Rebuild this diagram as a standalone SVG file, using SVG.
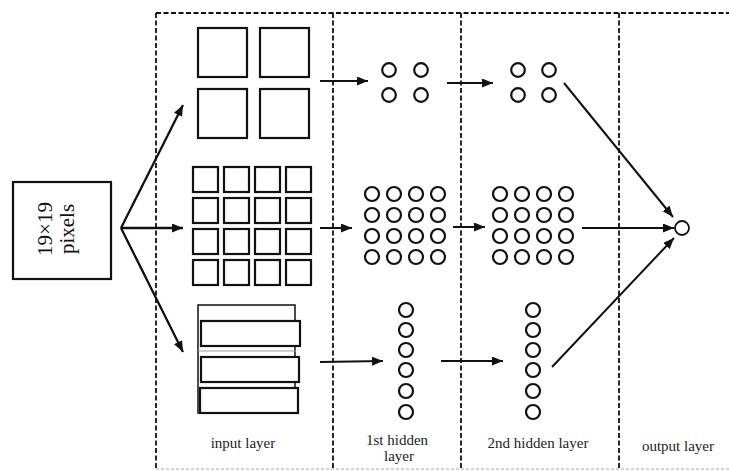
<svg xmlns="http://www.w3.org/2000/svg" width="729" height="471" viewBox="0 0 729 471">
<style>
.dash{fill:none;stroke:#111;stroke-width:1.8;stroke-dasharray:5 2.5}
.sq{fill:#fff;stroke:#111;stroke-width:2.2}
.thin{fill:#fff;stroke:#111;stroke-width:1.5}
.nd{fill:#fff;stroke:#111;stroke-width:2.2}
.ar{fill:none;stroke:#111;stroke-width:2;marker-end:url(#ah)}
.ar2{fill:none;stroke:#111;stroke-width:2.3;marker-end:url(#ah)}
.lbl{font-family:"Liberation Serif","Times New Roman",serif;font-size:15px;fill:#222;text-anchor:middle}
.big{font-family:"Liberation Serif","Times New Roman",serif;font-size:21px;fill:#111;text-anchor:middle}
</style>
<defs>
<marker id="ah" markerUnits="userSpaceOnUse" markerWidth="12" markerHeight="9" refX="11" refY="4.5" orient="auto">
<path d="M0,0 L11,4.5 L0,9 z" fill="#111"/>
</marker>
</defs>
<rect width="729" height="471" fill="#fff"/>
<g id="frame">
<path class="dash" d="M156,13 H729"/>
<path class="dash" d="M156,13 V469"/>
<path class="dash" d="M333,13 V469"/>
<path class="dash" d="M461,13 V469"/>
<path class="dash" d="M619,13 V469"/>
<path d="M156,469 H729" fill="none" stroke="#aaa" stroke-width="1" stroke-dasharray="3 2"/>
</g>
<g id="source">
<rect x="13" y="182" width="98" height="97" fill="#fff" stroke="#111" stroke-width="2.2"/>
<text class="big" transform="translate(52,229) rotate(-90)">19×19</text>
<text class="big" transform="translate(74,229) rotate(-90)">pixels</text>
</g>
<g id="input-top">
<rect class="sq" x="198" y="28" width="49" height="49"/>
<rect class="sq" x="260" y="28" width="49" height="49"/>
<rect class="sq" x="198" y="89" width="49" height="49"/>
<rect class="sq" x="260" y="89" width="49" height="49"/>
</g>
<g id="input-mid">
<rect class="sq" x="193" y="167" width="25" height="25"/>
<rect class="sq" x="224" y="167" width="25" height="25"/>
<rect class="sq" x="255" y="167" width="25" height="25"/>
<rect class="sq" x="286" y="167" width="25" height="25"/>
<rect class="sq" x="193" y="198" width="25" height="25"/>
<rect class="sq" x="224" y="198" width="25" height="25"/>
<rect class="sq" x="255" y="198" width="25" height="25"/>
<rect class="sq" x="286" y="198" width="25" height="25"/>
<rect class="sq" x="193" y="229" width="25" height="25"/>
<rect class="sq" x="224" y="229" width="25" height="25"/>
<rect class="sq" x="255" y="229" width="25" height="25"/>
<rect class="sq" x="286" y="229" width="25" height="25"/>
<rect class="sq" x="193" y="260" width="25" height="25"/>
<rect class="sq" x="224" y="260" width="25" height="25"/>
<rect class="sq" x="255" y="260" width="25" height="25"/>
<rect class="sq" x="286" y="260" width="25" height="25"/>
</g>
<g id="input-bottom">
<rect class="thin" x="198" y="305" width="97" height="108"/>
<line x1="198" y1="351" x2="296" y2="351" stroke="#999" stroke-width="1"/>
<rect class="sq" x="201" y="321" width="99" height="25"/>
<rect class="sq" x="201" y="357" width="98" height="25"/>
<rect class="sq" x="200" y="388" width="98" height="25"/>
</g>
<g id="h1-top">
<circle class="nd" cx="389" cy="70" r="6.8"/>
<circle class="nd" cx="421" cy="70" r="6.8"/>
<circle class="nd" cx="389" cy="95" r="6.8"/>
<circle class="nd" cx="421" cy="95" r="6.8"/>
</g>
<g id="h2-top">
<circle class="nd" cx="518" cy="70" r="6.8"/>
<circle class="nd" cx="549" cy="70" r="6.8"/>
<circle class="nd" cx="518" cy="95" r="6.8"/>
<circle class="nd" cx="549" cy="95" r="6.8"/>
</g>
<g id="h1-mid">
<circle class="nd" cx="372" cy="194" r="7"/><circle class="nd" cx="394" cy="194" r="7"/><circle class="nd" cx="416" cy="194" r="7"/><circle class="nd" cx="438" cy="194" r="7"/>
<circle class="nd" cx="372" cy="215" r="7"/><circle class="nd" cx="394" cy="215" r="7"/><circle class="nd" cx="416" cy="215" r="7"/><circle class="nd" cx="438" cy="215" r="7"/>
<circle class="nd" cx="372" cy="236" r="7"/><circle class="nd" cx="394" cy="236" r="7"/><circle class="nd" cx="416" cy="236" r="7"/><circle class="nd" cx="438" cy="236" r="7"/>
<circle class="nd" cx="372" cy="257" r="7"/><circle class="nd" cx="394" cy="257" r="7"/><circle class="nd" cx="416" cy="257" r="7"/><circle class="nd" cx="438" cy="257" r="7"/>
</g>
<g id="h2-mid">
<circle class="nd" cx="500" cy="194" r="7"/><circle class="nd" cx="522" cy="194" r="7"/><circle class="nd" cx="544" cy="194" r="7"/><circle class="nd" cx="566" cy="194" r="7"/>
<circle class="nd" cx="500" cy="215" r="7"/><circle class="nd" cx="522" cy="215" r="7"/><circle class="nd" cx="544" cy="215" r="7"/><circle class="nd" cx="566" cy="215" r="7"/>
<circle class="nd" cx="500" cy="236" r="7"/><circle class="nd" cx="522" cy="236" r="7"/><circle class="nd" cx="544" cy="236" r="7"/><circle class="nd" cx="566" cy="236" r="7"/>
<circle class="nd" cx="500" cy="257" r="7"/><circle class="nd" cx="522" cy="257" r="7"/><circle class="nd" cx="544" cy="257" r="7"/><circle class="nd" cx="566" cy="257" r="7"/>
</g>
<g id="h1-bottom">
<circle class="nd" cx="406" cy="310" r="7"/>
<circle class="nd" cx="406" cy="330" r="7"/>
<circle class="nd" cx="406" cy="350" r="7"/>
<circle class="nd" cx="406" cy="370" r="7"/>
<circle class="nd" cx="406" cy="391" r="7"/>
<circle class="nd" cx="406" cy="412" r="7"/>
</g>
<g id="h2-bottom">
<circle class="nd" cx="533" cy="310" r="7"/>
<circle class="nd" cx="533" cy="330" r="7"/>
<circle class="nd" cx="533" cy="350" r="7"/>
<circle class="nd" cx="533" cy="370" r="7"/>
<circle class="nd" cx="533" cy="391" r="7"/>
<circle class="nd" cx="533" cy="412" r="7"/>
</g>
<g id="output">
<circle cx="682" cy="228" r="7" fill="#fff" stroke="#111" stroke-width="1.8"/>
</g>
<g id="connectors">
<line class="ar2" x1="121" y1="228" x2="183" y2="105"/>
<line class="ar2" x1="121" y1="228" x2="183" y2="228"/>
<line class="ar2" x1="121" y1="228" x2="183" y2="352"/>
<line class="ar" x1="320" y1="81" x2="368" y2="81"/>
<line class="ar" x1="447" y1="83" x2="493" y2="83"/>
<line class="ar" x1="320" y1="228" x2="352" y2="228"/>
<line class="ar" x1="453" y1="227" x2="485" y2="227"/>
<line class="ar" x1="320" y1="362" x2="383" y2="361"/>
<line class="ar" x1="441" y1="361" x2="503" y2="361"/>
<line class="ar" x1="564" y1="83" x2="673" y2="217"/>
<line class="ar" x1="582" y1="228" x2="674" y2="228"/>
<line class="ar" x1="552" y1="367" x2="674" y2="238"/>
</g>
<g id="labels">
<text class="lbl" x="243" y="448">input layer</text>
<text class="lbl" x="397" y="445">1st hidden</text>
<text class="lbl" x="399" y="461">layer</text>
<text class="lbl" x="538" y="448">2nd hidden layer</text>
<text class="lbl" x="678" y="451">output layer</text>
</g>
</svg>
